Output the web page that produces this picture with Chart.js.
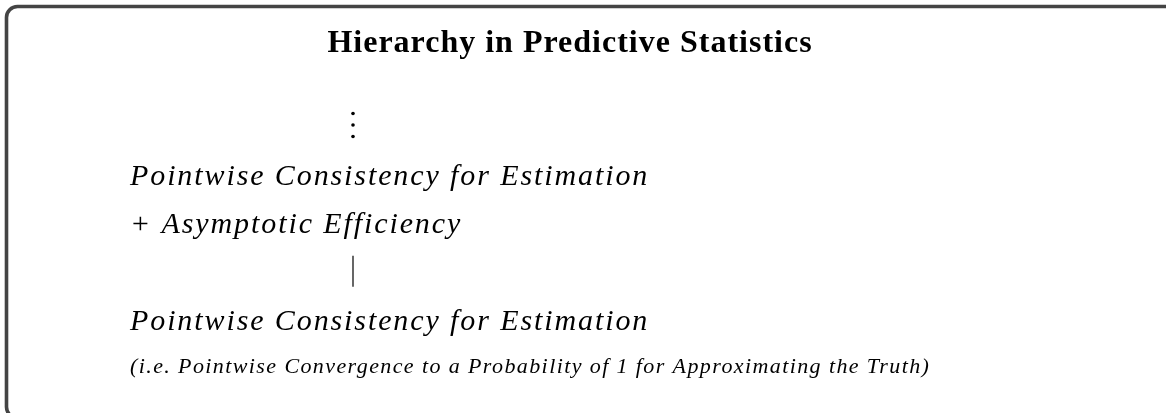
<!DOCTYPE html>
<html>
<head>
<meta charset="utf-8">
<script src="https://cdn.jsdelivr.net/npm/chart.js@4.4.1/dist/chart.umd.min.js"></script>
<style>
  html, body { margin: 0; padding: 0; background: #fff; }
  #wrap { width: 1166px; height: 413px; }
</style>
</head>
<body>
<div id="wrap"><canvas id="myChart"></canvas></div>
<script>
const chartTitle = 'Hierarchy in Predictive Statistics';
const rows = [
  '\u22EE',
  'Pointwise Consistency for Estimation',
  '+ Asymptotic Efficiency',
  '|',
  'Pointwise Consistency for Estimation',
  '(i.e. Pointwise Convergence to a Probability of 1 for Approximating the Truth)'
];
const rowKinds = ['dots', 'node', 'node', 'link', 'node', 'note'];

// how each kind of row is drawn
const kindStyle = {
  node: { font: 'italic 30px "Liberation Serif"', spacing: '1.9px', dy: 11 },
  note: { font: 'italic 22px "Liberation Serif"', spacing: '1.4px', dy: 5 },
  dots: { dx: 223, gap: 11.5, r: 1.8 },
  link: { dx: 223, up: 15, down: 16, width: 1.2 }
};

const framePlugin = {
  id: 'frame',
  beforeDraw(chart) {
    const ctx = chart.ctx;
    ctx.save();
    ctx.fillStyle = '#fff';
    ctx.fillRect(0, 0, chart.width, chart.height);
    ctx.strokeStyle = '#444';
    ctx.lineWidth = 3.6;
    ctx.beginPath();
    ctx.roundRect(6.5, 6.5, chart.width + 40, chart.height - 1.5, 11);
    ctx.stroke();
    ctx.restore();
    // the title box is drawn next and keeps this spacing inside its own save/restore
    ctx.letterSpacing = '1px';
  }
};

const rowTextPlugin = {
  id: 'rowText',
  afterDatasetsDraw(chart) {
    const ctx = chart.ctx;
    const pts = chart.getDatasetMeta(0).data;
    ctx.save();
    ctx.fillStyle = '#000';
    ctx.strokeStyle = '#000';
    pts.forEach((p, i) => {
      const kind = rowKinds[i];
      const st = kindStyle[kind];
      if (kind === 'dots') {
        for (let k = -1; k <= 1; k++) {
          ctx.beginPath();
          ctx.arc(p.x + st.dx, p.y + k * st.gap, st.r, 0, Math.PI * 2);
          ctx.fill();
        }
      } else if (kind === 'link') {
        ctx.lineWidth = st.width;
        ctx.beginPath();
        ctx.moveTo(p.x + st.dx, p.y - st.up);
        ctx.lineTo(p.x + st.dx, p.y + st.down);
        ctx.stroke();
      } else {
        ctx.font = st.font;
        ctx.letterSpacing = st.spacing;
        ctx.textAlign = 'left';
        ctx.textBaseline = 'alphabetic';
        ctx.fillText(rows[i], p.x, p.y + st.dy);
      }
    });
    ctx.restore();
    ctx.letterSpacing = '0px';
  }
};

const config = {
  type: 'scatter',
  data: {
    labels: rows,
    datasets: [{
      data: rows.map((r, i) => ({ x: 0, y: i })),
      pointRadius: 0,
      pointHoverRadius: 0
    }]
  },
  options: {
    responsive: true,
    maintainAspectRatio: false,
    animation: false,
    layout: { padding: { left: 130, right: 156, top: 0, bottom: 45 } },
    scales: {
      x: { type: 'linear', min: 0, max: 1, display: false },
      y: { type: 'category', labels: rows, offset: false, display: false }
    },
    plugins: {
      legend: { display: false },
      tooltip: { enabled: false },
      title: {
        display: true,
        text: chartTitle,
        color: '#000',
        font: { family: 'Liberation Serif', size: 32, weight: 'bold' },
        padding: { top: 25, bottom: 61.6 }
      }
    }
  },
  plugins: [framePlugin, rowTextPlugin]
};

const myChart = new Chart(document.getElementById('myChart'), config);
</script>
</body>
</html>
